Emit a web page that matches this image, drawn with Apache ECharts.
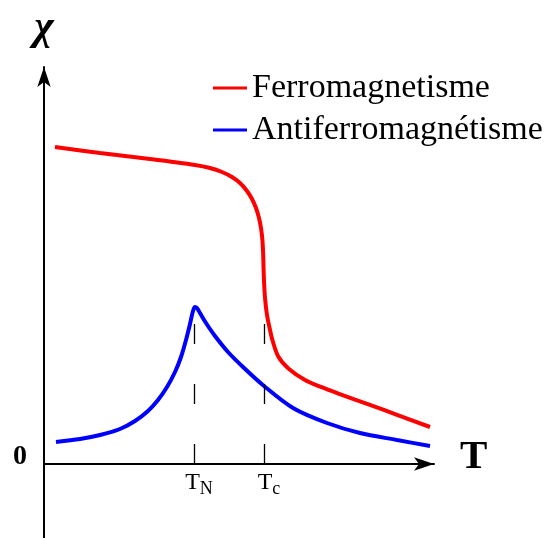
<!DOCTYPE html>
<html>
<head>
<meta charset="utf-8">
<script src="https://cdn.jsdelivr.net/npm/echarts@6/dist/echarts.min.js"></script>
<style>
  html, body { margin: 0; padding: 0; background: #fff; }
  #main { width: 546px; height: 538px; }
</style>
</head>
<body>
<div id="main"></div>
<script>
// temperature T (x) and susceptibility chi (y), arbitrary units
var ferroT   = [2.75, 14, 26.5, 37.75, 41.5, 44.5, 47, 49, 50.75, 52, 53, 53.75, 54.25, 54.6, 54.8, 54.9, 55.05, 55.3, 55.75, 56.4, 57.1, 58.6, 61.1, 65.25, 69.4, 73.6, 77.75, 82, 88.25, 96.5];
var ferroChi = [79.25, 77.75, 76.25, 74.75, 74, 73, 71.75, 70.25, 68.25, 66.25, 64, 61.5, 59, 56, 52.25, 48.5, 44.75, 41, 37.25, 34, 31, 26.8, 23.9, 21, 19.2, 17.6, 16.1, 14.6, 12.3, 9.25];

var antiT   = [3, 9, 14, 19, 22.75, 26, 28.5, 30.75, 32.75, 34.25, 35.5, 36.5, 37.25, 37.75, 38.25, 39, 40.5, 42.75, 46, 49.75, 55, 62.25, 70.75, 79, 88.25, 96.5];
var antiChi = [5.5, 6.25, 7.25, 8.75, 10.75, 13.25, 16, 19.25, 23, 26.75, 31, 35, 38.25, 39.25, 39, 37.75, 35.25, 32, 28, 24.25, 19.5, 14, 10.25, 7.75, 6, 4.5];

var TN = 37.5;
var Tc = 55;
var markTop = 35.25;
var tickLabels = ["T{sub|N}", "T{sub|c}"];

var serif = "Liberation Serif";

function zip(xs, ys) {
  return xs.map(function (x, i) { return [x, ys[i]]; });
}

var chart = echarts.init(document.getElementById("main"));

chart.setOption({
  animation: false,
  grid: { left: 44, right: 112, top: 67, bottom: 74, outerBoundsMode: "none" },
  legend: {
    orient: "vertical",
    left: 208,
    top: 66,
    icon: "rect",
    itemWidth: 34,
    itemHeight: 3,
    itemGap: 8,
    textStyle: { fontFamily: serif, fontSize: 34, color: "#000", padding: [0, 0, 0, 0] },
    data: ["Ferromagnetisme", "Antiferromagnétisme"]
  },
  xAxis: {
    type: "value",
    min: 0,
    max: 97.5,
    name: "T",
    nameLocation: "end",
    nameGap: 26,
    nameTextStyle: { fontFamily: serif, fontSize: 41, fontWeight: "bold", color: "#000", verticalAlign: "bottom", lineHeight: 14 },
    splitLine: { show: false },
    axisTick: { show: false },
    axisLine: {
      symbol: ["none", "arrow"],
      symbolSize: [10, 20],
      lineStyle: { color: "#000", width: 2 }
    },
    axisLabel: {
      customValues: [TN, Tc],
      formatter: function (v) { return v === TN ? tickLabels[0] : tickLabels[1]; },
      margin: 4,
      fontFamily: serif,
      fontSize: 24,
      color: "#000",
      padding: [0, 0, 0, 10],
      rich: {
        sub: { fontFamily: serif, fontSize: 18, color: "#000", verticalAlign: "bottom", padding: [12, 0, 0, 0] }
      }
    }
  },
  yAxis: {
    type: "value",
    min: 0,
    max: 99.25,
    name: "χ",
    nameLocation: "end",
    nameGap: 24,
    nameTextStyle: { fontFamily: serif, fontSize: 42, fontWeight: "bold", fontStyle: "italic", color: "#000", verticalAlign: "bottom", lineHeight: 30 },
    splitLine: { show: false },
    axisTick: { show: false },
    axisLine: {
      symbol: ["none", "arrow"],
      symbolSize: [10, 20],
      lineStyle: { color: "#000", width: 2 }
    },
    axisLabel: {
      customValues: [0],
      margin: 17,
      fontFamily: serif,
      fontSize: 28,
      fontWeight: "bold",
      color: "#000",
      verticalAlign: "bottom",
      lineHeight: 14
    }
  },
  series: [
    {
      name: "Ferromagnetisme",
      type: "line",
      data: zip(ferroT, ferroChi),
      smooth: 0.3,
      showSymbol: false,
      color: "#ff0000",
      lineStyle: { color: "#ff0000", width: 4 },
      markLine: {
        silent: true,
        symbol: "none",
        label: { show: false },
        lineStyle: { color: "#000", width: 1.3, type: [20, 40] },
        data: [
          [{ coord: [TN, 0] }, { coord: [TN, markTop] }],
          [{ coord: [Tc, 0] }, { coord: [Tc, markTop] }]
        ]
      }
    },
    {
      name: "Antiferromagnétisme",
      type: "line",
      data: zip(antiT, antiChi),
      smooth: 0.3,
      showSymbol: false,
      color: "#0000ff",
      lineStyle: { color: "#0000ff", width: 4 }
    }
  ]
});

// the vertical axis continues below the origin to the bottom edge
var origin = chart.convertToPixel({ gridIndex: 0 }, [0, 0]);
chart.setOption({
  graphic: [{
    type: "line",
    shape: { x1: origin[0], y1: origin[1], x2: origin[0], y2: 538 },
    style: { stroke: "#000", lineWidth: 2 },
    silent: true
  }]
});
</script>
</body>
</html>
